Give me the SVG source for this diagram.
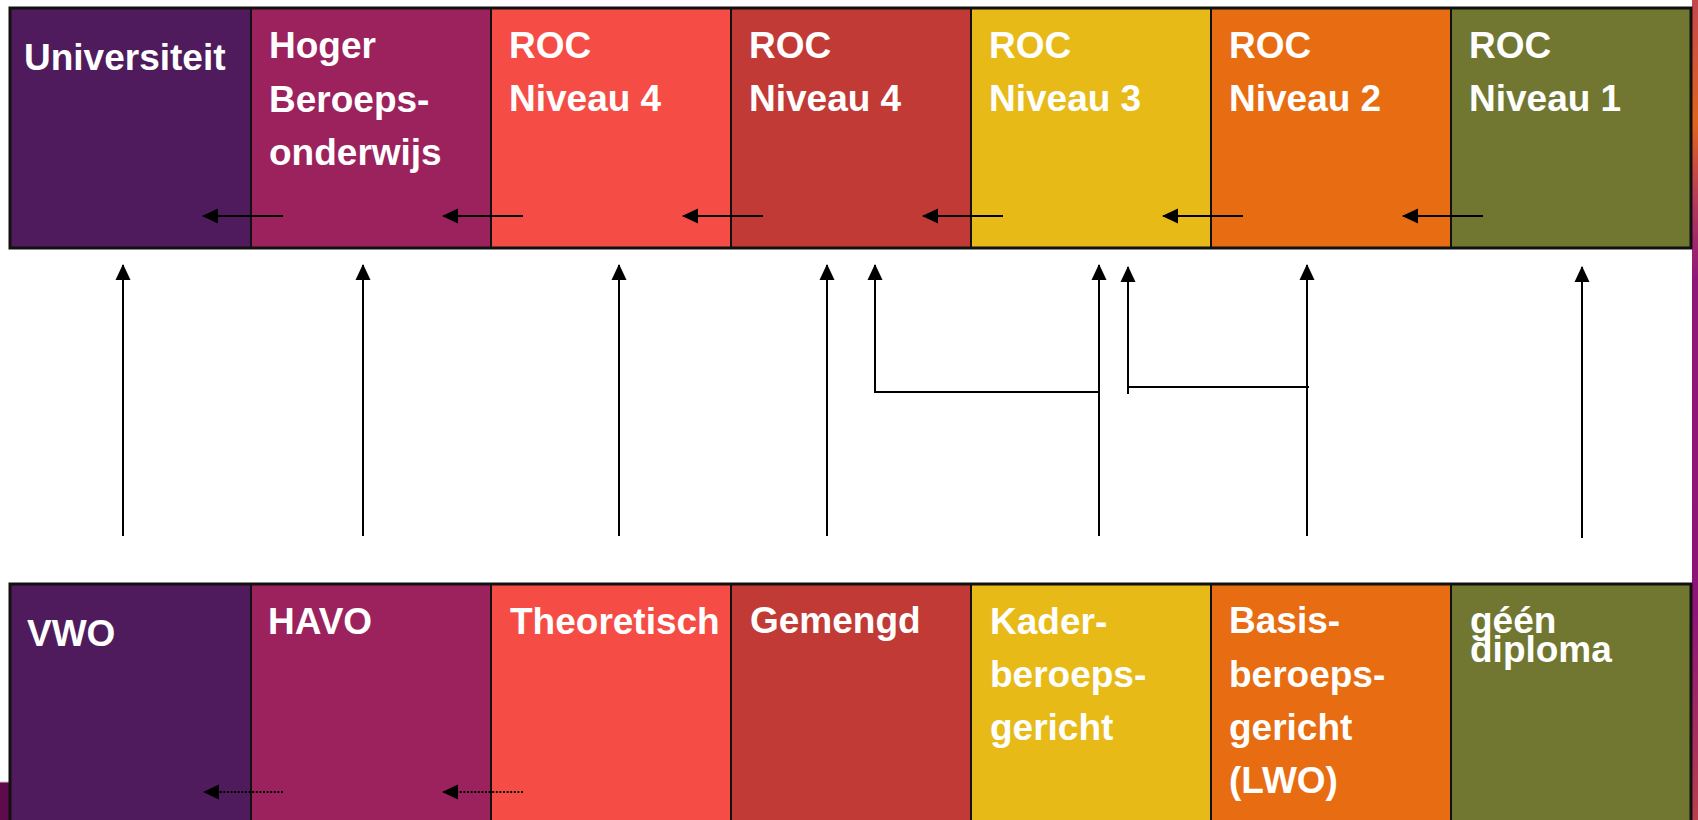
<svg xmlns="http://www.w3.org/2000/svg" width="1698" height="820" viewBox="0 0 1698 820">
<style>
.cell{stroke:#111;stroke-width:2}
.lbl{font-family:"Liberation Sans",Arial,sans-serif;font-weight:bold;font-size:37px;fill:#fff}
.c{stroke:#000;stroke-width:2;fill:none}
.d{stroke:#000;stroke-width:2;fill:none;stroke-dasharray:2 1.6}
</style>
<defs>
<marker id="ah" markerUnits="userSpaceOnUse" markerWidth="16" markerHeight="16" viewBox="0 0 16 16" refX="15" refY="8" orient="auto">
<path d="M0,0.5 L16,8 L0,15.5 Z" fill="#000"/>
</marker>
<linearGradient id="strip" x1="0" y1="0" x2="0" y2="1">
<stop offset="0" stop-color="#c4474f"/>
<stop offset="0.15" stop-color="#e0641c"/>
<stop offset="0.24" stop-color="#b83c5a"/>
<stop offset="0.34" stop-color="#8e1878"/>
<stop offset="0.75" stop-color="#8e1478"/>
<stop offset="1" stop-color="#b8404e"/>
</linearGradient>
</defs>
<rect width="1698" height="820" fill="#fff"/>
<rect x="1692" y="0" width="6" height="820" fill="url(#strip)"/>
<rect x="0" y="782" width="10" height="38" fill="#5e0b4e"/>
<line x1="0" y1="782" x2="10" y2="782" stroke="#cfc3c9" stroke-width="1"/>

<g id="universiteit"><rect class="cell" x="10" y="8" width="241" height="240" fill="#4f1b5c"/><text class="lbl" x="24" y="70">Universiteit</text></g>
<g id="hbo"><rect class="cell" x="251" y="8" width="240" height="240" fill="#9c225e"/><text class="lbl" x="269" y="58">Hoger</text><text class="lbl" x="269" y="112">Beroeps-</text><text class="lbl" x="269" y="165">onderwijs</text></g>
<g id="roc4a"><rect class="cell" x="491" y="8" width="240" height="240" fill="#f54d45"/><text class="lbl" x="509" y="58">ROC</text><text class="lbl" x="509" y="111">Niveau 4</text></g>
<g id="roc4b"><rect class="cell" x="731" y="8" width="240" height="240" fill="#c13a36"/><text class="lbl" x="749" y="58">ROC</text><text class="lbl" x="749" y="111">Niveau 4</text></g>
<g id="roc3"><rect class="cell" x="971" y="8" width="240" height="240" fill="#e7ba18"/><text class="lbl" x="989" y="58">ROC</text><text class="lbl" x="989" y="111">Niveau 3</text></g>
<g id="roc2"><rect class="cell" x="1211" y="8" width="240" height="240" fill="#e86c12"/><text class="lbl" x="1229" y="58">ROC</text><text class="lbl" x="1229" y="111">Niveau 2</text></g>
<g id="roc1"><rect class="cell" x="1451" y="8" width="240" height="240" fill="#717731"/><text class="lbl" x="1469" y="58">ROC</text><text class="lbl" x="1469" y="111">Niveau 1</text></g>
<rect x="10" y="8" width="1681" height="240" fill="none" stroke="#111" stroke-width="3"/>

<g id="vwo"><rect class="cell" x="10" y="584" width="241" height="250" fill="#4f1b5c"/><text class="lbl" x="27" y="646">VWO</text></g>
<g id="havo"><rect class="cell" x="251" y="584" width="240" height="250" fill="#9c225e"/><text class="lbl" x="268" y="634">HAVO</text></g>
<g id="theoretisch"><rect class="cell" x="491" y="584" width="240" height="250" fill="#f54d45"/><text class="lbl" x="510" y="634">Theoretisch</text></g>
<g id="gemengd"><rect class="cell" x="731" y="584" width="240" height="250" fill="#c13a36"/><text class="lbl" x="750" y="633">Gemengd</text></g>
<g id="kader"><rect class="cell" x="971" y="584" width="240" height="250" fill="#e7ba18"/><text class="lbl" x="990" y="634">Kader-</text><text class="lbl" x="990" y="687">beroeps-</text><text class="lbl" x="990" y="740">gericht</text></g>
<g id="basis"><rect class="cell" x="1211" y="584" width="240" height="250" fill="#e86c12"/><text class="lbl" x="1229" y="633">Basis-</text><text class="lbl" x="1229" y="687">beroeps-</text><text class="lbl" x="1229" y="740">gericht</text><text class="lbl" x="1229" y="793">(LWO)</text></g>
<g id="geen"><rect class="cell" x="1451" y="584" width="240" height="250" fill="#717731"/><text class="lbl" x="1470" y="633">géén</text><text class="lbl" x="1470" y="662">diploma</text></g>
<rect x="10" y="584" width="1681" height="250" fill="none" stroke="#111" stroke-width="3"/>

<g id="connectors">
<line class="c" x1="283" y1="216" x2="203" y2="216" marker-end="url(#ah)"/>
<line class="c" x1="523" y1="216" x2="443" y2="216" marker-end="url(#ah)"/>
<line class="c" x1="763" y1="216" x2="683" y2="216" marker-end="url(#ah)"/>
<line class="c" x1="1003" y1="216" x2="923" y2="216" marker-end="url(#ah)"/>
<line class="c" x1="1243" y1="216" x2="1163" y2="216" marker-end="url(#ah)"/>
<line class="c" x1="1483" y1="216" x2="1403" y2="216" marker-end="url(#ah)"/>
<line class="d" x1="283" y1="792" x2="204" y2="792" marker-end="url(#ah)"/>
<line class="d" x1="523" y1="792" x2="443" y2="792" marker-end="url(#ah)"/>
<line class="c" x1="123" y1="536" x2="123" y2="265" marker-end="url(#ah)"/>
<line class="c" x1="363" y1="536" x2="363" y2="265" marker-end="url(#ah)"/>
<line class="c" x1="619" y1="536" x2="619" y2="265" marker-end="url(#ah)"/>
<line class="c" x1="827" y1="536" x2="827" y2="265" marker-end="url(#ah)"/>
<polyline class="c" points="1099,392 875,392 875,265" marker-end="url(#ah)"/>
<line class="c" x1="1099" y1="536" x2="1099" y2="265" marker-end="url(#ah)"/>
<polyline class="c" points="1309,387 1128,387" />
<line class="c" x1="1128" y1="394" x2="1128" y2="267" marker-end="url(#ah)"/>
<line class="c" x1="1307" y1="536" x2="1307" y2="265" marker-end="url(#ah)"/>
<line class="c" x1="1582" y1="538" x2="1582" y2="267" marker-end="url(#ah)"/>
</g>
</svg>
